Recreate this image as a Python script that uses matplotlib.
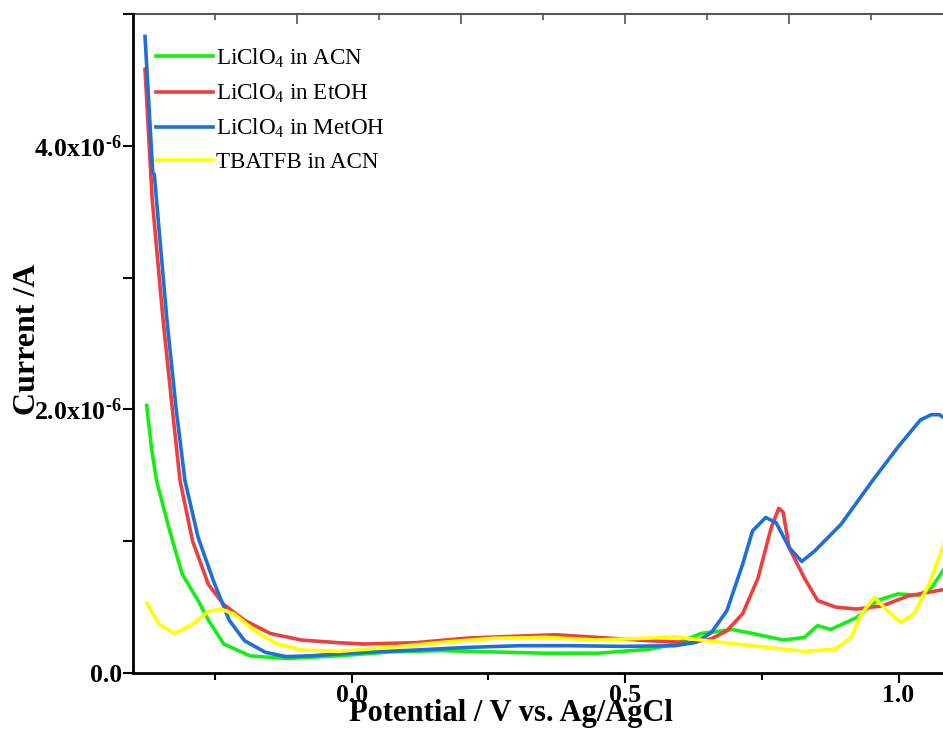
import matplotlib
matplotlib.use("Agg")

import matplotlib.pyplot as plt
from matplotlib.ticker import FixedLocator, NullFormatter

plt.rcParams["font.family"] = ["Liberation Serif", "DejaVu Serif"]
plt.rcParams["mathtext.fontset"] = "custom"
plt.rcParams["mathtext.rm"] = "Liberation Serif"
plt.rcParams["mathtext.bf"] = "Liberation Serif:bold"
plt.rcParams["mathtext.it"] = "Liberation Serif:italic"

# Current values are in 1e-6 A
acn_x = [-0.375, -0.366, -0.357, -0.333, -0.310, -0.281, -0.262, -0.234, -0.186, -0.12,
         -0.025, 0.07, 0.164, 0.259, 0.354, 0.449, 0.544, 0.591, 0.639, 0.696,
         0.733, 0.79, 0.828, 0.852, 0.876, 0.923, 0.961, 0.999, 1.037, 1.061, 1.085]
acn_y = [2.03, 1.70, 1.46, 1.08, 0.75, 0.55, 0.40, 0.22, 0.13, 0.11,
         0.13, 0.16, 0.17, 0.16, 0.15, 0.15, 0.18, 0.22, 0.30, 0.33,
         0.30, 0.25, 0.27, 0.36, 0.33, 0.42, 0.55, 0.60, 0.59, 0.65, 0.80]

etoh_x = [-0.378, -0.365, -0.345, -0.328, -0.314, -0.291, -0.262, -0.234, -0.196, -0.149,
          -0.092, -0.025, 0.022, 0.117, 0.212, 0.307, 0.373, 0.449, 0.544, 0.62,
          0.658, 0.686, 0.715, 0.743, 0.767, 0.781, 0.789, 0.80, 0.828, 0.852,
          0.885, 0.923, 0.971, 1.018, 1.085]
etoh_y = [4.58, 3.60, 2.68, 2.00, 1.46, 1.0, 0.67, 0.52, 0.40, 0.30,
          0.25, 0.23, 0.22, 0.23, 0.265, 0.28, 0.29, 0.27, 0.245, 0.23,
          0.26, 0.32, 0.45, 0.72, 1.10, 1.25, 1.22, 0.95, 0.72, 0.55,
          0.50, 0.485, 0.51, 0.585, 0.635]

meoh_x = [-0.378, -0.364, -0.361, -0.338, -0.321, -0.305, -0.281, -0.253, -0.224, -0.196,
          -0.158, -0.12, -0.073, 0.022, 0.117, 0.212, 0.307, 0.402, 0.496, 0.591,
          0.629, 0.658, 0.686, 0.715, 0.733, 0.757, 0.776, 0.80, 0.823, 0.847,
          0.895, 0.952, 1.0, 1.04, 1.06, 1.075, 1.085]
meoh_y = [4.83, 3.80, 3.78, 2.68, 2.00, 1.46, 1.03, 0.70, 0.40, 0.245,
          0.157, 0.124, 0.131, 0.157, 0.174, 0.194, 0.207, 0.207, 0.202, 0.207,
          0.232, 0.308, 0.472, 0.826, 1.078, 1.18, 1.141, 0.952, 0.846, 0.927,
          1.129, 1.457, 1.72, 1.92, 1.96, 1.96, 1.93]

tba_x = [-0.375, -0.352, -0.324, -0.291, -0.262, -0.239, -0.215, -0.177, -0.139, -0.092,
         -0.025, 0.07, 0.164, 0.259, 0.354, 0.449, 0.544, 0.591, 0.639, 0.733,
         0.828, 0.885, 0.913, 0.932, 0.956, 0.98, 1.004, 1.028, 1.056, 1.085]
tba_y = [0.53, 0.37, 0.30, 0.37, 0.467, 0.485, 0.447, 0.321, 0.225, 0.174,
         0.164, 0.194, 0.232, 0.263, 0.27, 0.25, 0.265, 0.275, 0.25, 0.207,
         0.164, 0.182, 0.27, 0.447, 0.573, 0.472, 0.384, 0.447, 0.674, 1.0]

labels = ["LiClO$_4$ in ACN", "LiClO$_4$ in EtOH", "LiClO$_4$ in MetOH", "TBATFB in ACN"]
colors = ["#14EE14", "#EE3F3F", "#1F6FDB", "#FFFF00"]

x_ticks = [0.0, 0.5, 1.0]
x_tick_labels = ["0.0", "0.5", "1.0"]
y_ticks = [0.0, 2.0e-6, 4.0e-6]
y_tick_labels = ["0.0", "2.0x10$^{\\mathbf{\u20106}}$", "4.0x10$^{\\mathbf{\u20106}}$"]

fig = plt.figure(figsize=(9.43, 7.30), dpi=100)
ax = fig.add_axes([133 / 943, 57 / 730, 812 / 943, 659 / 730])

series = [(acn_x, acn_y), (etoh_x, etoh_y), (meoh_x, meoh_y), (tba_x, tba_y)]
for (xs, ys), lab, col in zip(series, labels, colors):
    ax.plot(xs, [v * 1e-6 for v in ys], color=col, lw=2.6, label=lab)

ax.set_xlim(-0.4, 1.085)
ax.set_ylim(0, 5e-6)

ax.xaxis.set_major_locator(FixedLocator(x_ticks))
ax.set_xticklabels(x_tick_labels)
ax.xaxis.set_minor_locator(FixedLocator([-0.25, 0.25, 0.75]))
ax.yaxis.set_major_locator(FixedLocator(y_ticks))
ax.set_yticklabels(y_tick_labels)
ax.yaxis.set_minor_locator(FixedLocator([1e-6, 3e-6, 5e-6]))
ax.yaxis.set_minor_formatter(NullFormatter())

ax.tick_params(axis="both", which="both", direction="out", width=1.5, labelsize=18.5, pad=1)
ax.tick_params(axis="both", which="major", length=7)
ax.tick_params(axis="x", which="minor", length=5)
ax.tick_params(axis="y", which="minor", length=7)
ax.tick_params(right=True, which="both")
for lab in ax.get_xticklabels() + ax.get_yticklabels():
    lab.set_fontweight("bold")

for side in ["left", "bottom", "right"]:
    ax.spines[side].set_linewidth(2)
ax.spines["top"].set_visible(False)

# top axis in Origin has its own tick spacing
top = ax.secondary_xaxis("top")
top.xaxis.set_major_locator(FixedLocator([-0.1, 0.2, 0.5, 0.8]))
top.xaxis.set_minor_locator(FixedLocator([-0.25, 0.05, 0.35, 0.65, 0.95]))
top.xaxis.set_major_formatter(NullFormatter())
top.tick_params(which="both", direction="in", color="#555555", width=1.2)
top.tick_params(which="major", length=7)
top.tick_params(which="minor", length=4)
top.spines["top"].set_color("#555555")
top.spines["top"].set_linewidth(1.5)

ax.set_xlabel("Potential / V vs. Ag/AgCl", fontsize=22, fontweight="bold")
ax.xaxis.set_label_coords(0.4655, -0.04)
ax.set_ylabel("Current /A", fontsize=23, fontweight="bold")
ax.yaxis.set_label_coords(-0.112, 0.506)

ax.legend(loc="upper left", bbox_to_anchor=(0.0175, 0.965), frameon=False, fontsize=16.6,
          handlelength=2.45, handletextpad=0.15, labelspacing=0.52, borderaxespad=0)

fig.savefig("out.png", dpi=100)
